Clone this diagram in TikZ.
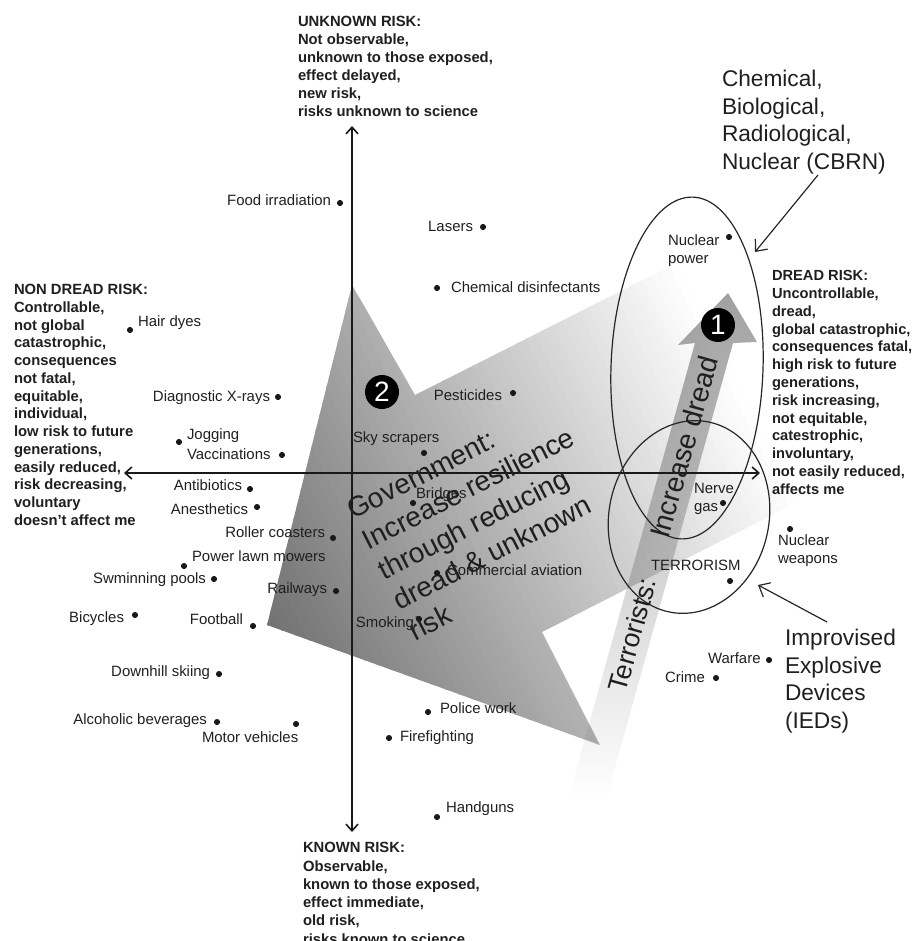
\documentclass[tikz,border=0pt]{standalone}
\usepackage{fontspec}
\setmainfont{Liberation Sans}
\usetikzlibrary{arrows.meta,shapes.geometric}
\begin{document}
\begin{tikzpicture}[x=0.75pt,y=-0.75pt,
  txt/.style={text=black!88, inner sep=0pt, outer sep=0pt},
  lbl/.style={txt, font=\fontsize{11.2}{13.5}\selectfont, text height=7.6pt, text depth=1.6pt},
  mlbl/.style={txt, font=\fontsize{11.2}{13.5}\selectfont, align=left, anchor=north west},
  dot/.style={circle, fill=black!90, inner sep=0pt, minimum size=4.6pt},
  blk/.style={txt, font=\bfseries\fontsize{11.1}{13.5}\selectfont, align=left, anchor=north west},
  big/.style={txt, font=\fontsize{17}{20.8}\selectfont, align=left, anchor=north west},
  axisline/.style={line width=1.2pt, black!90, {Straight Barb[length=5pt,width=9pt]}-{Straight Barb[length=5pt,width=9pt]}},
  ell/.style={draw=black!85, line width=0.9pt, ellipse, inner sep=0pt},
  pointer/.style={line width=0.9pt, black!85, -{Straight Barb[length=7pt,width=12pt]}},
  badge/.style={circle, fill=black, text=white, inner sep=0pt, minimum size=25.5pt, font=\fontsize{21}{21}\selectfont},
]
\path[use as bounding box] (0,0) rectangle (918,941);
\clip (0,0) rectangle (918,941);

% ---- big arrow 2 (government) ----
\begin{scope}
  \clip (267,625) -- (352,285) -- (415,395) -- (710,246) -- (829,486) -- (542,632) -- (600,745) -- cycle;
  \begin{scope}[shift={(267,625)}, rotate=26.8]
    \foreach \s in {-30,-20,...,560} {
      \pgfmathsetmacro\cc{max(0,55-0.105*\s)}
      \fill[black!\cc] (\s,-700) rectangle (\s+12,700);
    }
  \end{scope}
\end{scope}

% ---- arrow 1 (terrorists: increase dread) ----
\shade[blend mode=multiply, top color=black!37, middle color=black!28, bottom color=white]
  (568,800) -- (695,343) -- (678,345) -- (728,293) -- (757,342) -- (733,343) -- (606,800) -- cycle;

% ---- axes ----
\coordinate (vt) at (352,126);
\coordinate (vb) at (352,832);
\coordinate (hl) at (124,473);
\coordinate (hr) at (760,473);
\draw[axisline] (vb) -- (vt);
\draw[axisline] (hl) -- (hr);

% ---- ellipses ----
\node[ell, minimum width=114pt, minimum height=256.5pt, rotate=-2] (cbrnell) at (687,368) {};
\node[ell, minimum width=120pt, minimum height=145.5pt, rotate=-12] (terrell) at (689,517) {};

% ---- rotated texts ----
\node[txt, font=\fontsize{21}{25.5}\selectfont, align=left, rotate=27, anchor=north west] (gov) at (344.5,502.5)
  {Government:\\Increase resilience\\through reducing\\dread \& unknown\\risk};
\node[txt, font=\fontsize{21}{21}\selectfont, rotate=74.4] (incr) at (684,447) {Increase dread};
\node[txt, font=\fontsize{20}{20}\selectfont, rotate=74.4] (terr) at (632,635) {Terrorists:};

% ---- corner blocks ----
\node[blk] (unk) at (298,16.4) {UNKNOWN RISK:\\Not observable,\\unknown to those exposed,\\effect delayed,\\new risk,\\risks unknown to science};
\node[blk, font=\bfseries\fontsize{11.1}{13.3}\selectfont] (nondread) at (14,284.4) {NON DREAD RISK:\\Controllable,\\not global\\catastrophic,\\consequences\\not fatal,\\equitable,\\individual,\\low risk to future\\generations,\\easily reduced,\\risk decreasing,\\voluntary\\doesn't affect me};
\node[blk, font=\bfseries\fontsize{11}{13.35}\selectfont] (dread) at (772,270.4) {DREAD RISK:\\Uncontrollable,\\dread,\\global catastrophic,\\consequences fatal,\\high risk to future\\generations,\\risk increasing,\\not equitable,\\catestrophic,\\involuntary,\\not easily reduced,\\affects me};
\node[blk, font=\bfseries\fontsize{11.1}{13.7}\selectfont] (known) at (303,842.5) {KNOWN RISK:\\Observable,\\known to those exposed,\\effect immediate,\\old risk,\\risks known to science};

% ---- callouts ----
\node[big] (cbrn) at (722,70) {Chemical,\\Biological,\\Radiological,\\Nuclear (CBRN)};
\node[big] (ied) at (785,629) {Improvised\\Explosive\\Devices\\(IEDs)};
\coordinate (c1) at (818,175);
\coordinate (c2) at (755,252);
\draw[pointer] (c1) -- (c2);
\coordinate (i1) at (827,622);
\coordinate (i2) at (758,585);
\draw[pointer] (i1) -- (i2);

% ---- data points ----
\node[dot] (d1) at (340,203) {};  \node[lbl, anchor=east] (l1) at (331,202) {Food irradiation};
\node[dot] (d2) at (483,227) {};  \node[lbl, anchor=east] (l2) at (473,227) {Lasers};
\node[dot] (d3) at (437,288) {};  \node[lbl, anchor=west] (l3) at (451,288) {Chemical disinfectants};
\node[dot] (d4) at (130,330) {};  \node[lbl, anchor=west] (l4) at (138,322) {Hair dyes};
\node[dot] (d5) at (278,397) {};  \node[lbl, anchor=east] (l5) at (270,397) {Diagnostic X-rays};
\node[dot] (d6) at (179,442) {};  \node[lbl, anchor=west] (l6) at (187,435) {Jogging};
\node[dot] (d7) at (282,455) {};  \node[lbl, anchor=west] (l7) at (187,455) {Vaccinations};
\node[dot] (d8) at (513,393) {};  \node[lbl, anchor=east] (l8) at (502,396) {Pesticides};
\node[dot] (d9) at (424,453) {};  \node[lbl, anchor=west] (l9) at (353,438) {Sky scrapers};
\node[dot] (d10) at (413,503) {}; \node[lbl, anchor=west] (l10) at (416,494) {Bridges};
\node[dot] (d11) at (250,489) {}; \node[lbl, anchor=east] (l11) at (242,486) {Antibiotics};
\node[dot] (d12) at (257,507) {}; \node[lbl, anchor=east] (l12) at (248,510) {Anesthetics};
\node[dot] (d13) at (333,538) {}; \node[lbl, anchor=east] (l13) at (325,533) {Roller coasters};
\node[dot] (d14) at (184,566) {}; \node[lbl, anchor=west] (l14) at (192,557) {Power lawn mowers};
\node[dot] (d15) at (214,579) {}; \node[lbl, anchor=east] (l15) at (206,579) {Swminning pools};
\node[dot] (d16) at (336,591) {}; \node[lbl, anchor=east] (l16) at (327,589) {Railways};
\node[dot] (d17) at (135,615) {}; \node[lbl, anchor=east] (l17) at (124,618) {Bicycles};
\node[dot] (d18) at (253,626) {}; \node[lbl, anchor=east] (l18) at (243,620) {Football};
\node[dot] (d19) at (219,674) {}; \node[lbl, anchor=east] (l19) at (210,672) {Downhill skiing};
\node[dot] (d20) at (217,722) {}; \node[lbl, anchor=east] (l20) at (207,720) {Alcoholic beverages};
\node[dot] (d21) at (296,724) {}; \node[lbl, anchor=west] (l21) at (202,738) {Motor vehicles};
\node[dot] (d22) at (437,573) {}; \node[lbl, anchor=west] (l22) at (447,571) {Commercial aviation};
\node[dot] (d23) at (419,619) {}; \node[lbl, anchor=east] (l23) at (414,623) {Smoking};
\node[dot] (d24) at (428,712) {}; \node[lbl, anchor=west] (l24) at (440,709) {Police work};
\node[dot] (d25) at (389,738) {}; \node[lbl, anchor=west] (l25) at (400,737) {Firefighting};
\node[dot] (d26) at (437,817) {}; \node[lbl, anchor=west] (l26) at (446,808) {Handguns};
\node[dot] (d27) at (729,237) {}; \node[mlbl] (l27) at (668,235) {Nuclear\\power};
\node[dot] (d28) at (723,503) {}; \node[mlbl] (l28) at (694,483) {Nerve\\gas};
\node[dot] (d29) at (790,529) {}; \node[mlbl] (l29) at (778,535) {Nuclear\\weapons};
\node[dot] (d30) at (730,581) {}; \node[lbl, anchor=west] (l30) at (651,566) {TERRORISM};
\node[dot] (d31) at (769,660) {}; \node[lbl, anchor=west] (l31) at (708,659) {Warfare};
\node[dot] (d32) at (716,678) {}; \node[lbl, anchor=west] (l32) at (665,678) {Crime};

% ---- badges ----
\node[badge] (b2) at (382,392) {2};
\node[badge] (b1) at (718,325) {1};
\end{tikzpicture}
\end{document}
